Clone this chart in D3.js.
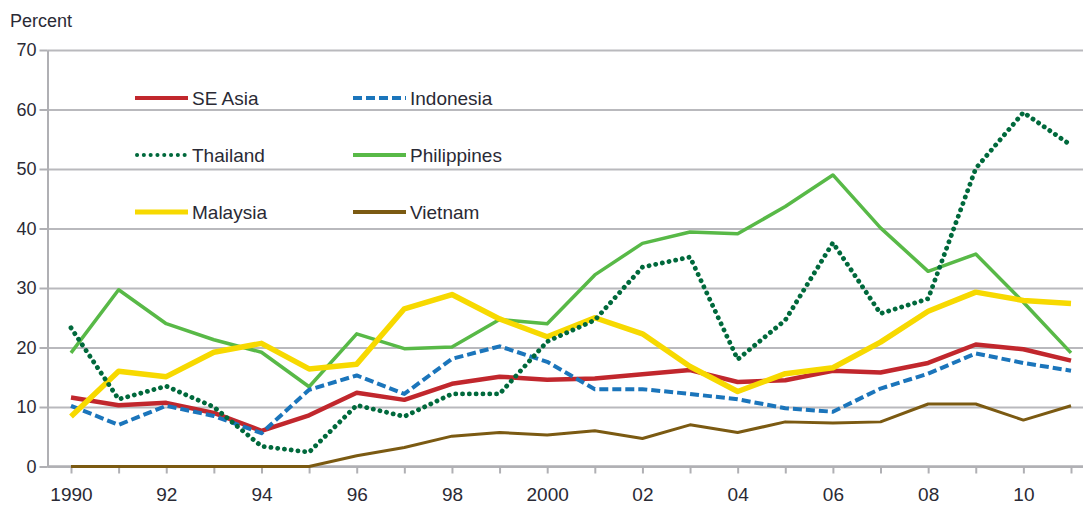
<!DOCTYPE html>
<html lang="en">
    <head>
        <meta charset="UTF-8"/>
        <title>SE Asia percent chart</title>
        <script src="https://d3js.org/d3.v7.min.js"></script>
        <style>
            body { margin: 0; background: #fff; }
            text { font-family: "Liberation Sans", Arial, sans-serif; fill: #2a2a35; }
        </style>
    </head>

    <body>
        <script>
        var w = 1083;
        var h = 506;

        var years = d3.range(1990, 2012);
        var yearLabels = ["1990", "", "92", "", "94", "", "96", "", "98", "", "2000", "",
                          "02", "", "04", "", "06", "", "08", "", "10", ""];
        var yTicks = [0, 10, 20, 30, 40, 50, 60, 70];

        var seAsia      = [11.6, 10.3, 10.7, 9.0, 6.0, 8.6, 12.4, 11.2, 13.9, 15.1, 14.6, 14.8,
                           15.5, 16.2, 14.2, 14.5, 16.1, 15.8, 17.4, 20.5, 19.7, 17.8];
        var indonesia   = [10.2, 7.0, 10.2, 8.5, 5.6, 12.9, 15.3, 12.2, 18.1, 20.2, 17.6, 13.0,
                           13.0, 12.2, 11.3, 9.8, 9.2, 13.1, 15.6, 19.0, 17.4, 16.1];
        var thailand    = [23.3, 11.3, 13.5, 10.0, 3.4, 2.4, 10.3, 8.4, 12.2, 12.2, 21.0, 24.6,
                           33.5, 35.2, 18.0, 24.6, 37.6, 25.7, 28.2, 50.1, 59.5, 54.0];
        var philippines = [19.1, 29.7, 24.0, 21.3, 19.2, 13.4, 22.3, 19.8, 20.1, 24.7, 24.0, 32.2,
                           37.5, 39.4, 39.1, 43.7, 49.0, 40.1, 32.8, 35.7, 27.6, 19.1];
        var malaysia    = [8.4, 16.0, 15.1, 19.2, 20.7, 16.4, 17.2, 26.5, 28.9, 24.8, 21.8, 25.0,
                           22.3, 16.8, 12.6, 15.6, 16.6, 20.9, 26.1, 29.3, 27.9, 27.4];
        var vietnam     = [0, 0, 0, 0, 0, 0, 1.8, 3.2, 5.1, 5.7, 5.3, 6.0,
                           4.7, 7.0, 5.7, 7.5, 7.3, 7.5, 10.5, 10.5, 7.8, 10.2];

        var series = [
            {name: "Vietnam",     values: vietnam,     color: "#7b5a12", width: 3},
            {name: "Philippines", values: philippines, color: "#58b947", width: 3.5},
            {name: "SE Asia",     values: seAsia,      color: "#c1272d", width: 4.5},
            {name: "Indonesia",   values: indonesia,   color: "#1b75bb", width: 4, dash: "9,4"},
            {name: "Malaysia",    values: malaysia,    color: "#f7d900", width: 5.5},
            {name: "Thailand",    values: thailand,    color: "#00693c", width: 4.8, dash: "0.1,6.7", cap: "round"}
        ];

        var xLeft = 47.5;

        var xScale = d3.scaleLinear()
                        .domain([1990, 2011])
                        .range([71, 1071]);

        var yScale = d3.scaleLinear()
                        .domain([0, 70])
                        .range([466.5, 50]);

        var svg = d3.select("body")
                    .append("svg")
                    .attr("width", w)
                    .attr("height", h);

        /* gridlines */
        var grid = svg.append("g")
            .attr("transform", "translate(" + xLeft + ",0)")
            .call(d3.axisLeft(yScale).tickValues(yTicks).tickSize(-(w - xLeft)).tickFormat(""));
        grid.select(".domain").remove();
        grid.selectAll("line").attr("stroke", "#b9b9bd").attr("stroke-width", 2);

        /* Y axis */
        var yAxis = svg.append("g")
            .attr("transform", "translate(" + xLeft + ",0)")
            .call(d3.axisLeft(yScale).tickValues(yTicks).tickSize(8).tickSizeOuter(0).tickPadding(3));
        yAxis.select(".domain").attr("stroke", "#b0b0b4").attr("stroke-width", 2);
        yAxis.selectAll("line").attr("stroke", "#b0b0b4").attr("stroke-width", 2);
        yAxis.selectAll("text")
            .attr("font-size", "18px")
            .attr("font-family", "Liberation Sans, Arial, sans-serif")
            .attr("fill", "#2a2a35");

        /* X axis */
        var xAxis = svg.append("g")
            .attr("transform", "translate(0," + yScale(0) + ")")
            .call(d3.axisBottom(xScale).tickValues(years).tickSize(7).tickSizeOuter(0)
                .tickFormat(function(d, i){ return yearLabels[i]; }).tickPadding(14));
        xAxis.select(".domain")
            .attr("d", "M" + xLeft + ",0H" + w)
            .attr("stroke", "#b0b0b4").attr("stroke-width", 2.5);
        xAxis.selectAll("line").attr("stroke", "#b0b0b4").attr("stroke-width", 2);
        xAxis.selectAll("text")
            .attr("font-size", "19px")
            .attr("font-family", "Liberation Sans, Arial, sans-serif")
            .attr("fill", "#2a2a35");

        svg.append("text")
            .attr("x", 10)
            .attr("y", 27)
            .attr("font-size", "18px")
            .text("Percent");

        /* lines */
        var line = d3.line()
            .x(function(d, i){ return xScale(years[i]); })
            .y(function(d){ return yScale(d); });

        svg.selectAll(".series")
            .data(series)
            .enter()
            .append("path")
            .attr("class", "series")
            .attr("d", function(d){ return line(d.values); })
            .attr("fill", "none")
            .attr("stroke", function(d){ return d.color; })
            .attr("stroke-width", function(d){ return d.width; })
            .attr("stroke-dasharray", function(d){ return d.dash || null; })
            .attr("stroke-linecap", function(d){ return d.cap || "butt"; })
            .attr("stroke-linejoin", "round");

        /* legend */
        var legendOrder = ["SE Asia", "Indonesia", "Thailand", "Philippines", "Malaysia", "Vietnam"];
        var legend = svg.selectAll(".legend")
            .data(legendOrder.map(function(n){ return series.find(function(s){ return s.name === n; }); }))
            .enter()
            .append("g")
            .attr("class", "legend")
            .attr("transform", function(d, i){
                return "translate(" + (i % 2 === 0 ? 135 : 353) + "," + (98 + Math.floor(i / 2) * 57) + ")";
            });

        legend.append("line")
            .attr("x1", function(d){ return d.cap ? 2 : 0; })
            .attr("x2", 53)
            .attr("stroke", function(d){ return d.color; })
            .attr("stroke-width", function(d){ return d.name === "Malaysia" ? 5 : 4; })
            .attr("stroke-dasharray", function(d){ return d.dash || null; })
            .attr("stroke-linecap", function(d){ return d.cap || "butt"; });

        legend.append("text")
            .attr("x", 57)
            .attr("y", 7)
            .attr("font-size", "19px")
            .text(function(d){ return d.name; });
        </script>
    </body>
</html>
